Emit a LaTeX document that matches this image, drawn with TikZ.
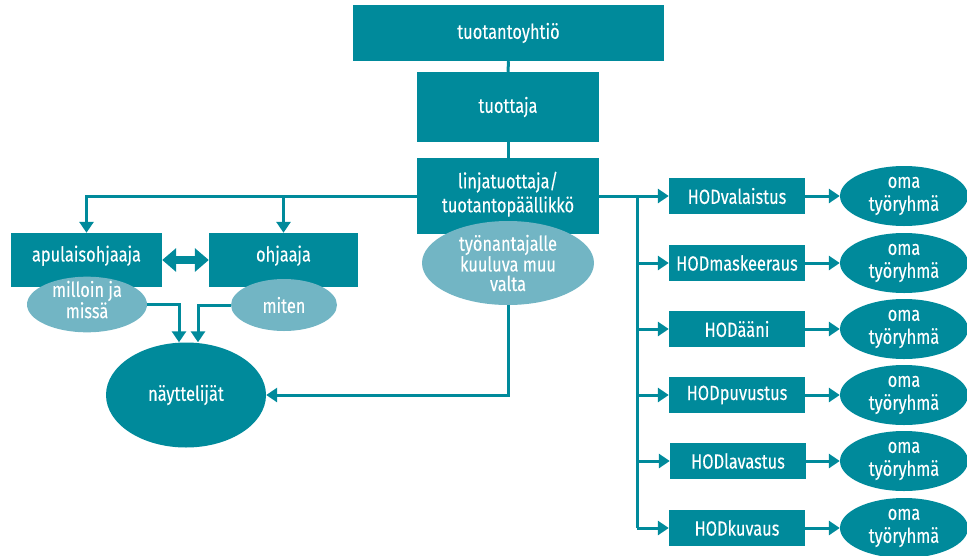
\documentclass[tikz,border=0pt]{standalone}
\usepackage{fontspec}
\setmainfont[FakeStretch=0.8,FakeBold=0.12]{Fira Sans}
\usetikzlibrary{arrows.meta,shapes.geometric}
\definecolor{tealD}{RGB}{0,138,155}
\definecolor{tealL}{RGB}{114,181,196}
\begin{document}
\begin{tikzpicture}[x=1pt,y=-1pt,
  box/.style={fill=tealD, text=white, inner sep=0pt, align=center, font=\fontsize{20.5}{24}\selectfont},
  hod/.style={box, minimum width=136pt, minimum height=36pt},
  dell/.style={ellipse, fill=tealD, text=white, inner sep=-4pt, align=center, font=\fontsize{20.5}{23}\selectfont},
  lell/.style={ellipse, fill=tealL, text=white, inner sep=-4pt, align=center, font=\fontsize{20.5}{19.5}\selectfont},
  conn/.style={draw=tealD, line width=3pt},
  arr/.style={conn, -{Triangle[length=11pt,width=14pt]}},
]
\useasboundingbox (0,0) rectangle (967,555);
\clip (0,0) rectangle (967,555);

% top hierarchy
\node[box, minimum width=311pt, minimum height=56pt] (toy) at (508.5,33) {tuotantoyhtiö};
\node[box, minimum width=182pt, minimum height=70pt] (tuo) at (508,107) {tuottaja};
\node[box, minimum width=182pt, minimum height=76pt, text depth=8pt] (lin) at (508,196) {linjatuottaja/\\tuotantopäällikkö};

% left side
\node[box, minimum width=151pt, minimum height=54pt, text depth=13pt] (apu) at (86.5,260) {apulaisohjaaja};
\node[box, minimum width=149pt, minimum height=54pt, text depth=13pt] (ohj) at (283.5,260) {ohjaaja};
\node[dell, minimum width=160pt, minimum height=105pt] (nay) at (186,395) {näyttelijät};

% HOD boxes
\node[hod] (h1) at (737,196) {HODvalaistus};
\node[hod] (h2) at (737,263) {HODmaskeeraus};
\node[hod] (h3) at (737,329) {HODääni};
\node[hod] (h4) at (737,395) {HODpuvustus};
\node[hod] (h5) at (738,461) {HODlavastus};
\node[hod] (h6) at (737,528) {HODkuvaus};

% oma työryhmä ellipses
\foreach \i/\y in {1/196,2/263,3/329,4/395,5/461,6/528}{
  \node[dell, minimum width=128pt, minimum height=60pt] (o\i) at (904,\y) {oma\\työryhmä};
}

% connectors top
\draw[conn] (toy.south) -- (tuo.north);
\draw[conn] (tuo.south) -- (lin.north);

% left branch
\coordinate (bo) at (ohj.north |- lin.west);
\draw[arr] (lin.west) -| (apu.north);
\draw[arr] (bo) -- (ohj.north);

% right trunk
\coordinate (tr) at (637,196);
\coordinate (tb) at (tr |- h6.west);
\draw[conn] (lin.east) -- (tr) -- (tb);
\foreach \i in {1,...,6}{
  \draw[arr] (tr |- h\i.west) -- (h\i.west);
  \draw[arr] (h\i.east) -- (o\i.west);
}

% light ellipses on top
\node[lell, minimum width=172pt, minimum height=84pt] (tyo) at (508,263) {työnantajalle\\kuuluva muu\\valta};
\node[lell, minimum width=120pt, minimum height=51pt, text depth=10pt] (mil) at (87,304.5) {milloin ja\\missä};
\node[lell, minimum width=106pt, minimum height=52pt] (mit) at (284,305) {miten};

% double arrow
\draw[draw=tealD, line width=8pt, {Triangle[length=14pt,width=23pt]}-{Triangle[length=14pt,width=23pt]}] (apu.east) -- (ohj.east -| ohj.west);

% arrows to actors
\draw[arr] (mil.east) -| ([xshift=-7pt]nay.north);
\draw[arr] (mit.west) -| ([xshift=12pt]nay.north);
\draw[arr] (tyo.south) |- (nay.east);
\end{tikzpicture}
\end{document}
